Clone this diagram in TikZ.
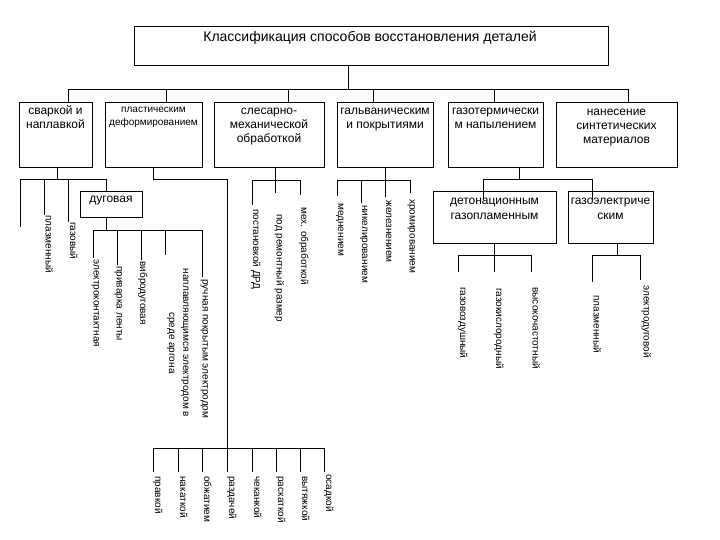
\documentclass[tikz,border=0pt]{standalone}
\usepackage{fontspec}
\setmainfont{Liberation Sans}
\usetikzlibrary{calc}
\newcommand\sizeT{\fontsize{14}{16}\selectfont}
\newcommand\sizeB{\fontsize{12}{14}\selectfont}
\newcommand\sizeP{\fontsize{10}{13}\selectfont}
\newcommand\sizeL{\fontsize{10}{14}\selectfont}
\begin{document}
\begin{tikzpicture}[x=1pt,y=-1pt,line width=0.8pt,
  box/.style={draw,rectangle,inner sep=0pt},
  txt/.style={inner sep=0pt,align=center,font=\sizeB},
  lab/.style={inner sep=0pt,rotate=-90,anchor=west,font=\sizeL,text height=7.5pt,text depth=2.5pt},
  labtwo/.style={inner sep=0pt,rotate=-90,anchor=center,font=\sizeL,align=center}]
\fill[white] (0,0) rectangle (720,540);
\path[use as bounding box] (0,0) rectangle (720,540);

% boxes
\node[box,minimum width=474,minimum height=39] (top) at (371,45.5) {};
\node[txt,font=\sizeT] (toptxt) at (370,38) {\strut Классификация способов восстановления деталей};

\node[box,minimum width=73,minimum height=65] (b1) at (55.5,134.5) {};
\node[txt] (b1t) at (55.5,118.5) {\strut сваркой и\\\strut наплавкой};
\node[box,minimum width=97,minimum height=65] (b2) at (153.5,134.5) {};
\node[txt,font=\sizeP] (b2t) at (153.5,116.5) {\strut пластическим\\\strut деформированием};
\node[box,minimum width=110,minimum height=65] (b3) at (269,134.5) {};
\node[txt] (b3t) at (269,126) {\strut слесарно-\\\strut механической\\\strut обработкой};
\node[box,minimum width=96,minimum height=65] (b4) at (385,134.5) {};
\node[txt] (b4t) at (385,119) {\strut гальваническим\\\strut и покрытиями};
\node[box,minimum width=95,minimum height=65] (b5) at (495.5,134.5) {};
\node[txt] (b5t) at (495.5,119) {\strut газотермически\\\strut м напылением};
\node[box,minimum width=121,minimum height=65] (b6) at (616.5,134.5) {};
\node[txt] (b6t) at (616.5,127) {\strut нанесение\\\strut синтетических\\\strut материалов};

\node[box,minimum width=62,minimum height=26] (dug) at (111,204) {};
\node[txt] (dugt) at (111,200) {\strut дуговая};
\node[box,minimum width=123,minimum height=52] (det) at (494.5,217) {};
\node[txt,font=\fontsize{12}{15}\selectfont] (dett) at (494.5,209.5) {\strut детонационным\\\strut газопламенным};
\node[box,minimum width=85,minimum height=52] (gel) at (610.5,217) {};
\node[txt,font=\fontsize{12}{15}\selectfont] (gelt) at (610.5,209.5) {\strut газоэлектриче\\\strut ским};

% main bus
\coordinate (tdrop) at (348,89);
\coordinate (d1) at (68,89);
\coordinate (d2) at (166,89);
\coordinate (d3) at (288,89);
\coordinate (d4) at (373,89);
\coordinate (d5) at (494,89);
\coordinate (d6) at (628,89);
\draw (tdrop |- top.south) -- (tdrop);
\draw (d1) -- (d6);
\draw (d1) -- (d1 |- b1.north);
\draw (d2) -- (d2 |- b2.north);
\draw (d3) -- (d3 |- b3.north);
\draw (d4) -- (d4 |- b4.north);
\draw (d5) -- (d5 |- b5.north);
\draw (d6) -- (d6 |- b6.north);

% сваркой
\coordinate (w0) at (57,179);
\coordinate (w1) at (20,179);
\coordinate (w2) at (44,179);
\coordinate (w3) at (68,179);
\coordinate (w4) at (106,179);
\draw (w0 |- b1.south) -- (w0);
\draw (w1) -- (w4);
\draw (w1) -- ++(0,48);
\draw (w2) -- ++(0,36);
\draw (w3) -- ++(0,43);
\draw (w4) -- (w4 |- dug.north);
\node[lab] (l1) at (48,215) {плазменный};
\node[lab] (l2) at (72.5,222) {газовый};

% дуговая
\coordinate (g0) at (106,230);
\coordinate (g1) at (93,230);
\coordinate (g2) at (117,230);
\coordinate (g3) at (141,230);
\coordinate (g4) at (165,230);
\coordinate (g5) at (202,230);
\draw (g0 |- dug.south) -- (g0);
\draw (g1) -- (g5);
\draw (g1) -- ++(0,28);
\draw (g2) -- ++(0,35);
\draw (g3) -- ++(0,30);
\draw (g4) -- ++(0,25);
\draw (g5) -- ++(0,47);
\node[lab] (l3) at (96,259) {электроконтактная};
\node[lab] (l4) at (119,266) {приварка ленты};
\node[lab] (l5) at (142.5,261) {вибродуговая};
\node[labtwo] (l6) at (179,343) {\strut наплавляющимся электродом в\\\strut среде аргона};
\node[lab] (l7) at (205,279) {ручная покрытым электродом};

% пластическим
\coordinate (p0) at (153,179);
\coordinate (p1) at (227,179);
\coordinate (q1) at (153,448);
\coordinate (q2) at (178,448);
\coordinate (q3) at (202,448);
\coordinate (q4) at (227,448);
\coordinate (q5) at (252,448);
\coordinate (q6) at (276,448);
\coordinate (q7) at (300,448);
\coordinate (q8) at (324,448);
\draw (p0 |- b2.south) -- (p0) -- (p1) -- (q4);
\draw (q1) -- (q8);
\foreach \q in {q1,q2,q3,q4,q5,q6,q7,q8} \draw (\q) -- ++(0,24);
\node[lab] (r1) at (157.5,476) {правкой};
\node[lab] (r2) at (182.5,476) {накаткой};
\node[lab] (r3) at (206.5,476) {обжатием};
\node[lab] (r4) at (231.5,476) {раздачей};
\node[lab] (r5) at (256.5,476) {чеканкой};
\node[lab] (r6) at (280.5,476) {раскаткой};
\node[lab] (r7) at (304.5,476) {вытяжкой};
\node[lab] (r8) at (328.5,474) {осадкой};

% слесарно
\coordinate (m0) at (275,180);
\coordinate (m1) at (252,180);
\coordinate (m2) at (275,180);
\coordinate (m3) at (300,180);
\draw (m0 |- b3.south) -- (m0);
\draw (m1) -- (m3);
\draw (m1) -- ++(0,25);
\draw (m2) -- ++(0,13);
\draw (m3) -- ++(0,15);
\node[lab] (s1) at (255.5,209) {постановкой ДРД};
\node[lab] (s2) at (279,214) {под ремонтный размер};
\node[lab] (s3) at (303.5,207) {мех. обработкой};

% гальваническим
\coordinate (h0) at (385,180);
\coordinate (h1) at (337,180);
\coordinate (h2) at (361,180);
\coordinate (h3) at (385,180);
\coordinate (h4) at (410,180);
\draw (h0 |- b4.south) -- (h0);
\draw (h1) -- (h4);
\draw (h1) -- ++(0,16);
\draw (h2) -- ++(0,23);
\draw (h3) -- ++(0,17);
\draw (h4) -- ++(0,13);
\node[lab] (u1) at (340.5,203) {меднением};
\node[lab] (u2) at (364.5,205) {никелированием};
\node[lab] (u3) at (388.5,200) {железнением};
\node[lab] (u4) at (412,199) {хромированием};

% газотермически
\coordinate (t0) at (519,179);
\coordinate (t1) at (483,179);
\coordinate (t2) at (592,179);
\draw (t0 |- b5.south) -- (t0);
\draw (t1) -- (t2);
\draw (t1) -- ++(0,21);
\draw (t2) -- ++(0,21);

% детонационным
\coordinate (e0) at (494,255);
\coordinate (e1) at (458,255);
\coordinate (e2) at (494,255);
\coordinate (e3) at (531,255);
\draw (e0 |- det.south) -- (e0);
\draw (e1) -- (e3);
\foreach \e in {e1,e2,e3} \draw (\e) -- ++(0,17);
\node[lab] (v1) at (462.5,287) {газовоздушный};
\node[lab] (v2) at (498.5,288) {газокислородный};
\node[lab] (v3) at (535,287) {высокочастотный};

% газоэлектрическим
\coordinate (f0) at (617,255);
\coordinate (f1) at (592,255);
\coordinate (f2) at (640,255);
\draw (f0 |- gel.south) -- (f0);
\draw (f1) -- (f2);
\draw (f1) -- ++(0,27);
\draw (f2) -- ++(0,25);
\node[lab] (x1) at (596,295) {плазменный};
\node[lab] (x2) at (646,285) {электродуговой};
\end{tikzpicture}
\end{document}
